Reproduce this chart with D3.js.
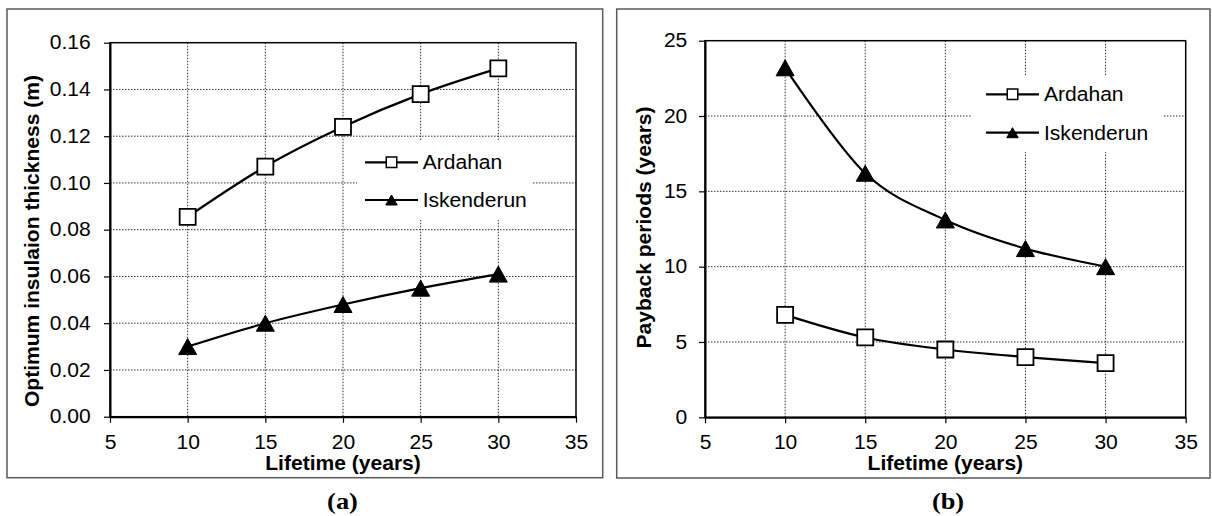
<!DOCTYPE html>
<html>
<head>
<meta charset="utf-8">
<script src="https://cdn.jsdelivr.net/npm/d3@7"></script>
<style>
  html, body { margin: 0; padding: 0; background: #fff; }
  svg { display: block; }
</style>
</head>
<body>
<svg id="chart" width="1212" height="516"></svg>
<script>
// ---------------- data ----------------
const lifetimes = [10, 15, 20, 25, 30];
const xTickValues = [5, 10, 15, 20, 25, 30, 35];
const seriesNames = ["Ardahan", "Iskenderun"];

const thicknessArdahan = [0.0855, 0.107, 0.124, 0.138, 0.149];
const thicknessIskenderun = [0.030, 0.040, 0.048, 0.055, 0.061];
const thicknessTicks = [0, 0.02, 0.04, 0.06, 0.08, 0.10, 0.12, 0.14, 0.16];

const paybackArdahan = [6.8, 5.3, 4.5, 4.0, 3.6];
const paybackIskenderun = [23.2, 16.2, 13.1, 11.2, 10.0];
const paybackTicks = [0, 5, 10, 15, 20, 25];

const xTitle = "Lifetime (years)";
const yTitleA = "Optimum insulaion thickness (m)";
const yTitleB = "Payback periods (years)";

// ---------------- drawing ----------------
const svg = d3.select("#chart");
const SANS = "'Liberation Sans', Arial, sans-serif";
const SERIF = "'Liberation Serif', 'Times New Roman', serif";
const SX = 1.08; // horizontal stretch of the original typography
const FS = 19.5;

function squarePath(s) {
  const h = s / 2;
  return `M${-h},${-h}H${h}V${h}H${-h}Z`;
}
function trianglePath(w, h) {
  return `M0,${-h / 2}L${w / 2},${h / 2}L${-w / 2},${h / 2}Z`;
}

function drawPanel(cfg) {
  const g = svg.append("g");
  // outer frame
  g.append("rect")
    .attr("x", cfg.frame.x).attr("y", cfg.frame.y)
    .attr("width", cfg.frame.w).attr("height", cfg.frame.h)
    .attr("fill", "none").attr("stroke", "#5a5a5a").attr("stroke-width", 1.5);

  const x = d3.scaleLinear().domain([5, 35]).range([cfg.plot.left, cfg.plot.right]);
  const y = d3.scaleLinear().domain(cfg.yDomain).range([cfg.plot.bottom, cfg.plot.top]);

  // gridlines
  const grid = g.append("g").attr("stroke", "#333").attr("stroke-width", 1)
    .attr("stroke-dasharray", "1.5,1.5");
  grid.selectAll("line.h").data(cfg.yTicks.filter(v => v > cfg.yDomain[0] && v < cfg.yDomain[1]))
    .join("line").attr("class", "h")
    .attr("x1", cfg.plot.left).attr("x2", cfg.plot.right)
    .attr("y1", d => y(d)).attr("y2", d => y(d));
  grid.selectAll("line.v").data(xTickValues.filter(v => v > 5 && v < 35))
    .join("line").attr("class", "v")
    .attr("y1", cfg.plot.top).attr("y2", cfg.plot.bottom)
    .attr("x1", d => x(d)).attr("x2", d => x(d));

  // plot border
  g.append("rect")
    .attr("x", cfg.plot.left).attr("y", cfg.plot.top)
    .attr("width", cfg.plot.right - cfg.plot.left).attr("height", cfg.plot.bottom - cfg.plot.top)
    .attr("fill", "none").attr("stroke", "#000").attr("stroke-width", 1.5);

  // axes
  const xAxis = g.append("g")
    .attr("transform", `translate(0,${cfg.plot.bottom})`)
    .call(d3.axisBottom(x).tickValues(xTickValues).tickFormat(d3.format("d"))
      .tickSizeInner(6).tickSizeOuter(0).tickPadding(cfg.xPad));
  const yAxis = g.append("g")
    .attr("transform", `translate(${cfg.plot.left},0)`)
    .call(d3.axisLeft(y).tickValues(cfg.yTicks).tickFormat(cfg.yFormat)
      .tickSizeInner(6).tickSizeOuter(0).tickPadding(cfg.yPad));
  [xAxis, yAxis].forEach(ax => {
    ax.attr("font-family", SANS).attr("font-size", FS);
    ax.select(".domain").attr("stroke", "#000").attr("stroke-width", 2);
    ax.selectAll(".tick line").attr("stroke", "#000").attr("stroke-width", 1.2);
    ax.selectAll(".tick text")
      .attr("fill", "#000")
      .attr("transform", `scale(${SX},1)`);
  });

  // series lines
  const line = d3.line()
    .x((d, i) => x(lifetimes[i]))
    .y(d => y(d))
    .curve(d3.curveCardinal.tension(0));
  const series = [
    { name: seriesNames[0], values: cfg.ardahan, marker: "square" },
    { name: seriesNames[1], values: cfg.iskenderun, marker: "triangle" }
  ];
  series.forEach(s => {
    g.append("path").datum(s.values).attr("d", line)
      .attr("fill", "none").attr("stroke", "#000").attr("stroke-width", 2.2);
    g.selectAll(null).data(s.values).join("path")
      .attr("transform", (d, i) => `translate(${x(lifetimes[i])},${y(d)})`)
      .attr("d", s.marker === "square" ? squarePath(16) : trianglePath(18, 16))
      .attr("fill", s.marker === "square" ? "#fff" : "#000")
      .attr("stroke", "#000").attr("stroke-width", s.marker === "square" ? 1.8 : 1);
  });

  // legend
  const L = cfg.legend;
  g.append("rect").attr("x", L.box[0]).attr("y", L.box[1])
    .attr("width", L.box[2]).attr("height", L.box[3]).attr("fill", "#fff");
  series.forEach((s, i) => {
    const cy = L.rows[i];
    g.append("line").attr("x1", L.x1).attr("x2", L.x2).attr("y1", cy).attr("y2", cy)
      .attr("stroke", "#000").attr("stroke-width", 2.2);
    g.append("path").attr("transform", `translate(${(L.x1 + L.x2) / 2},${cy})`)
      .attr("d", s.marker === "square" ? squarePath(10.5) : trianglePath(11.5, 10))
      .attr("fill", s.marker === "square" ? "#fff" : "#000")
      .attr("stroke", "#000").attr("stroke-width", s.marker === "square" ? 1.5 : 1);
    g.append("text")
      .attr("transform", `translate(${L.tx},${cy + 7}) scale(${SX},1)`)
      .attr("font-family", SANS).attr("font-size", FS).text(s.name);
  });

  // axis titles
  const cx = (cfg.plot.left + cfg.plot.right) / 2;
  g.append("text")
    .attr("transform", `translate(${cx},${cfg.xTitleY}) scale(${SX},1)`)
    .attr("text-anchor", "middle").attr("font-weight", "bold")
    .attr("font-family", SANS).attr("font-size", FS)
    .text(xTitle);
  g.append("text")
    .attr("transform", `translate(${cfg.yTitle.x},${cfg.yTitle.y}) rotate(-90) scale(${SX},1)`)
    .attr("text-anchor", "middle").attr("font-weight", "bold")
    .attr("font-family", SANS).attr("font-size", FS)
    .text(cfg.yTitle.text);

  // caption
  g.append("text")
    .attr("transform", `translate(${cfg.caption.x},509) scale(1.1,1)`)
    .attr("text-anchor", "middle").attr("font-weight", "bold").attr("font-size", 24)
    .attr("font-family", SERIF)
    .text(cfg.caption.text);
}

drawPanel({
  frame: { x: 7, y: 9, w: 595.7, h: 468.7 },
  plot: { left: 110, top: 42.7, right: 576, bottom: 416.7 },
  yDomain: [0, 0.16],
  yTicks: thicknessTicks,
  yFormat: d3.format(".2f"),
  xPad: 12.7, yPad: 11.9,
  ardahan: thicknessArdahan,
  iskenderun: thicknessIskenderun,
  legend: { box: [357, 140, 175, 80], x1: 365, x2: 418, tx: 422.7, rows: [162.3, 200] },
  xTitleY: 470,
  yTitle: { x: 39, y: 241, text: yTitleA },
  caption: { x: 342.5, text: "(a)" }
});

drawPanel({
  frame: { x: 616.7, y: 9, w: 593.3, h: 469 },
  plot: { left: 705, top: 40.7, right: 1185.7, bottom: 417.3 },
  yDomain: [0, 25],
  yTicks: paybackTicks,
  yFormat: d3.format("d"),
  xPad: 12.2, yPad: 10.4,
  ardahan: paybackArdahan,
  iskenderun: paybackIskenderun,
  legend: { box: [972, 75, 192, 77], x1: 986, x2: 1039, tx: 1044, rows: [94.3, 132.7] },
  xTitleY: 470,
  yTitle: { x: 650.5, y: 227.5, text: yTitleB },
  caption: { x: 948, text: "(b)" }
});
</script>
</body>
</html>
